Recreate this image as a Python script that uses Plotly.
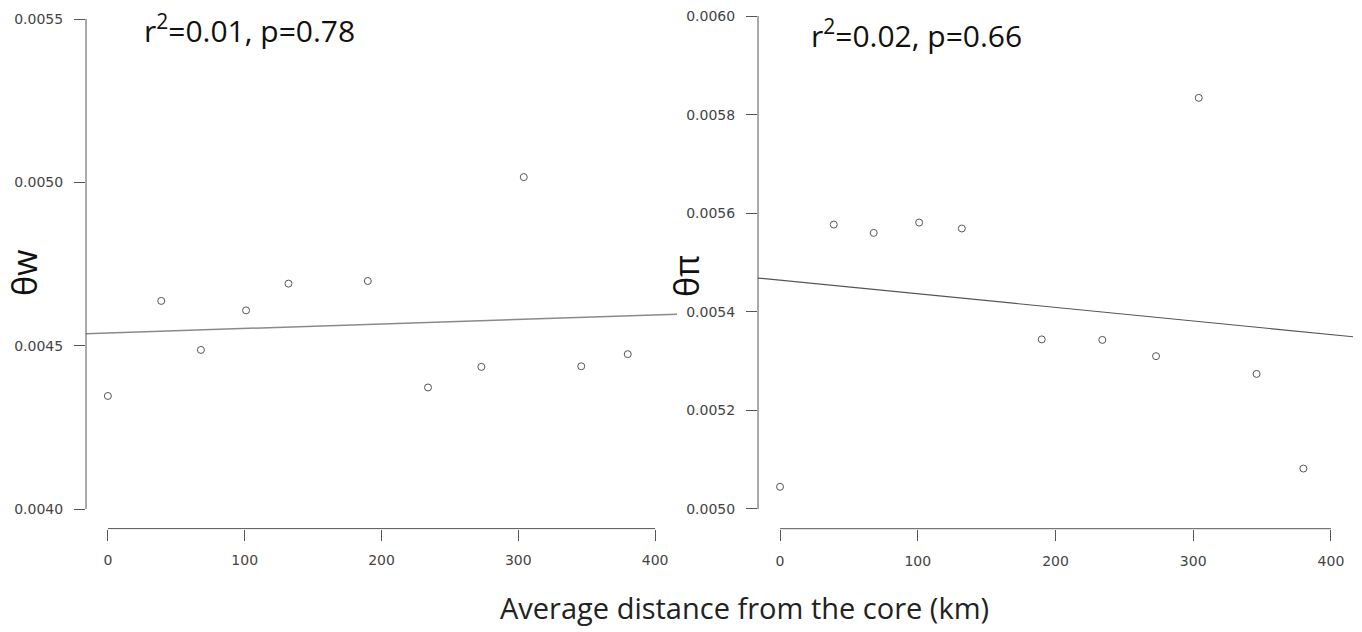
import plotly.graph_objects as go

W, H = 1362, 632

# ---- data ----
distance_km = [0, 39, 68, 101, 132, 190, 234, 273, 304, 346, 380]
theta_w = [0.004346, 0.004637, 0.004487, 0.004608, 0.004690, 0.004698,
           0.004372, 0.004435, 0.005016, 0.004437, 0.004474]
theta_pi = [0.005045, 0.005577, 0.005560, 0.005581, 0.005569, 0.005344,
            0.005343, 0.005310, 0.005834, 0.005274, 0.005082]

# fitted regression lines (intercept, slope per km)
fit_w = (0.004539, 1.375e-7)
fit_pi = (0.005464, -2.755e-7)

x_ticks = [0, 100, 200, 300, 400]
yw_ticks = [0.0040, 0.0045, 0.0050, 0.0055]
ypi_ticks = [0.0050, 0.0052, 0.0054, 0.0056, 0.0058, 0.0060]

ann_w = "r<sup>2</sup>=0.01, p=0.78"
ann_pi = "r<sup>2</sup>=0.02, p=0.66"
x_title = "Average distance from the core (km)"

# ---- styling / layout helpers ----
x_range = [-16, 416]
yw_range = [0.00394, 0.0055582]
ypi_range = [0.00496, 0.0060325]
axis_col = "#555555"
tick_font = dict(family="DejaVu Sans", size=14, color="#444444")
text_font = "Open Sans"

fig = go.Figure()

def line_pts(fit):
    b0, b1 = fit
    xs = list(x_range)
    return xs, [b0 + b1 * x for x in xs]

lx, ly = line_pts(fit_w)
fig.add_trace(go.Scatter(x=lx, y=ly, mode="lines", line=dict(color="#8a8a8a", width=1.5),
                         xaxis="x", yaxis="y", showlegend=False, hoverinfo="skip"))
fig.add_trace(go.Scatter(x=distance_km, y=theta_w, mode="markers",
                         marker=dict(symbol="circle-open", size=7, color="#555555", line=dict(width=1)),
                         xaxis="x", yaxis="y", showlegend=False))

lx, ly = line_pts(fit_pi)
fig.add_trace(go.Scatter(x=lx, y=ly, mode="lines", line=dict(color="#555555", width=1.2),
                         xaxis="x2", yaxis="y2", showlegend=False, hoverinfo="skip"))
fig.add_trace(go.Scatter(x=distance_km, y=theta_pi, mode="markers",
                         marker=dict(symbol="circle-open", size=7, color="#555555", line=dict(width=1)),
                         xaxis="x2", yaxis="y2", showlegend=False))

common_x = dict(range=x_range, tickvals=x_ticks, ticks="outside", ticklen=11, tickwidth=1,
                tickcolor=axis_col, showline=False, showgrid=False, zeroline=False,
                tickfont=tick_font, ticklabelstandoff=8)
common_y = dict(ticks="outside", ticklen=11, tickwidth=1, tickcolor=axis_col,
                showline=False, showgrid=False, zeroline=False, tickfont=tick_font,
                tickformat=".4f", ticklabelstandoff=8)

fig.update_layout(
    width=W, height=H, margin=dict(l=0, r=0, t=0, b=0),
    paper_bgcolor="white", plot_bgcolor="white",
    xaxis=dict(domain=[86 / W, 677 / W], anchor="y", **common_x),
    yaxis=dict(domain=[(H - 528.6) / H, 1], anchor="x", range=yw_range, tickvals=yw_ticks, **common_y),
    xaxis2=dict(domain=[758 / W, 1353 / W], anchor="y2", **common_x),
    yaxis2=dict(domain=[(H - 528.7) / H, 1], anchor="x2", range=ypi_range, tickvals=ypi_ticks, **common_y),
)

# R-style axis lines spanning only the tick range
for xr, yr, yt in (("x", "y", yw_ticks), ("x2", "y2", ypi_ticks)):
    fig.add_shape(type="line", xref=xr, yref=yr + " domain", x0=x_ticks[0], x1=x_ticks[-1], y0=0, y1=0,
                  line=dict(color=axis_col, width=1))
    fig.add_shape(type="line", xref=xr + " domain", yref=yr, x0=0, x1=0, y0=yt[0], y1=yt[-1],
                  line=dict(color=axis_col, width=1))

fig.add_annotation(text=ann_w, x=249 / W, y=1 - 29 / H, xref="paper", yref="paper", showarrow=False,
                   font=dict(family=text_font, size=30, color="#111111"), xanchor="center", yanchor="middle")
fig.add_annotation(text=ann_pi, x=916 / W, y=1 - 34 / H, xref="paper", yref="paper", showarrow=False,
                   font=dict(family=text_font, size=30, color="#111111"), xanchor="center", yanchor="middle")
fig.add_annotation(text="θw", x=24 / W, y=1 - 273 / H, xref="paper", yref="paper", showarrow=False,
                   textangle=-90, font=dict(family=text_font, size=34, color="#111111"),
                   xanchor="center", yanchor="middle")
fig.add_annotation(text="θπ", x=686 / W, y=1 - 276 / H, xref="paper", yref="paper", showarrow=False,
                   textangle=-90, font=dict(family=text_font, size=34, color="#111111"),
                   xanchor="center", yanchor="middle")
fig.add_annotation(text=x_title, x=744 / W, y=1 - 607 / H, xref="paper", yref="paper", showarrow=False,
                   font=dict(family=text_font, size=29, color="#222222"), xanchor="center", yanchor="middle")

fig.write_html("out.html")
